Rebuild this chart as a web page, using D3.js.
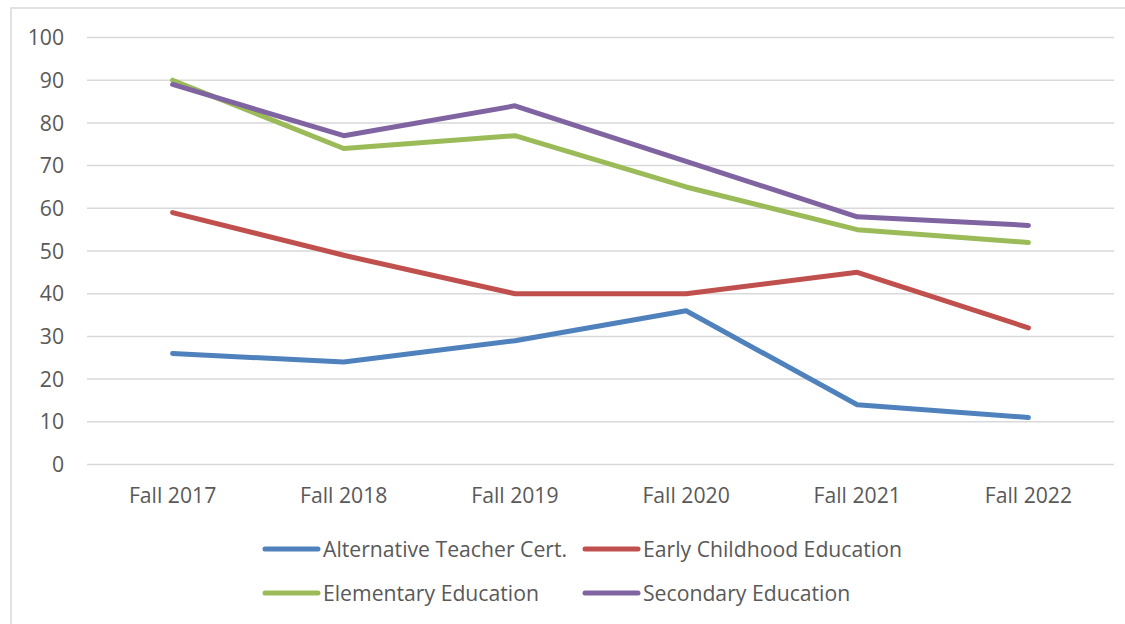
<!DOCTYPE html>
<html><head><meta charset="utf-8">
<script src="https://cdn.jsdelivr.net/npm/d3@7"></script>
<style>html,body{margin:0;padding:0;background:#fff;}svg{display:block;}</style>
</head><body>
<svg id="chart" width="1125" height="624"></svg>
<script>
const categories = ["Fall 2017","Fall 2018","Fall 2019","Fall 2020","Fall 2021","Fall 2022"];
const seriesNames = ["Alternative Teacher Cert.","Early Childhood Education","Elementary Education","Secondary Education"];
const altTeacherCert = [26,24,29,36,14,11];
const earlyChildhood = [59,49,40,40,45,32];
const elementary = [90,74,77,65,55,52];
const secondary = [89,77,84,71,58,56];
const yTicks = [0,10,20,30,40,50,60,70,80,90,100];
const colors = ["#4F81BD","#C0504D","#9BBB59","#8064A2"];

(function(){
const series = [altTeacherCert, earlyChildhood, elementary, secondary];
const svg = d3.select("#chart");
const font = "'Open Sans', 'Noto Sans', sans-serif";
const textColor = "#595959";
const fs = 21.2;

// chart border
svg.append("rect").attr("x",11).attr("y",8).attr("width",1130).attr("height",640)
  .attr("fill","#fff").attr("stroke","#d9d9d9").attr("stroke-width",1.5);

const pl = 87, pr = 1114, pt = 37.5, pb = 464.5;
const x = d3.scalePoint().domain(categories).range([pl,pr]).padding(0.5);
const y = d3.scaleLinear().domain([0,100]).range([pb,pt]);

// gridlines
svg.append("g").selectAll("line").data(yTicks).join("line")
  .attr("x1",pl).attr("x2",pr)
  .attr("y1",d=>y(d)).attr("y2",d=>y(d))
  .attr("stroke","#d9d9d9").attr("stroke-width",1.5);

// y labels
svg.append("g").selectAll("text").data(yTicks).join("text")
  .attr("x",64).attr("y",d=>y(d)).attr("dy","0.36em")
  .attr("text-anchor","end").attr("font-family",font).attr("font-size",fs)
  .attr("fill",textColor).text(d=>d);

// x labels
svg.append("g").selectAll("text").data(categories).join("text")
  .attr("x",d=>x(d)).attr("y",503)
  .attr("text-anchor","middle").attr("font-family",font).attr("font-size",fs)
  .attr("fill",textColor).text(d=>d);

// lines
const line = d3.line().x((d,i)=>x(categories[i])).y(d=>y(d));
svg.append("g").selectAll("path").data(series).join("path")
  .attr("d",d=>line(d)).attr("fill","none")
  .attr("stroke",(d,i)=>colors[i]).attr("stroke-width",5)
  .attr("stroke-linecap","round").attr("stroke-linejoin","round");

// legend
const legendPos = [[265,549],[585,549],[265,593],[585,593]];
const lg = svg.append("g").selectAll("g").data(seriesNames).join("g")
  .attr("transform",(d,i)=>`translate(${legendPos[i][0]},${legendPos[i][1]})`);
lg.append("line").attr("x1",0).attr("x2",53).attr("y1",0).attr("y2",0)
  .attr("stroke",(d,i)=>colors[i]).attr("stroke-width",5).attr("stroke-linecap","round");
lg.append("text").attr("x",58).attr("y",0).attr("dy","0.36em")
  .attr("font-family",font).attr("font-size",fs).attr("fill",textColor).text(d=>d);
})();
</script>
</body></html>
